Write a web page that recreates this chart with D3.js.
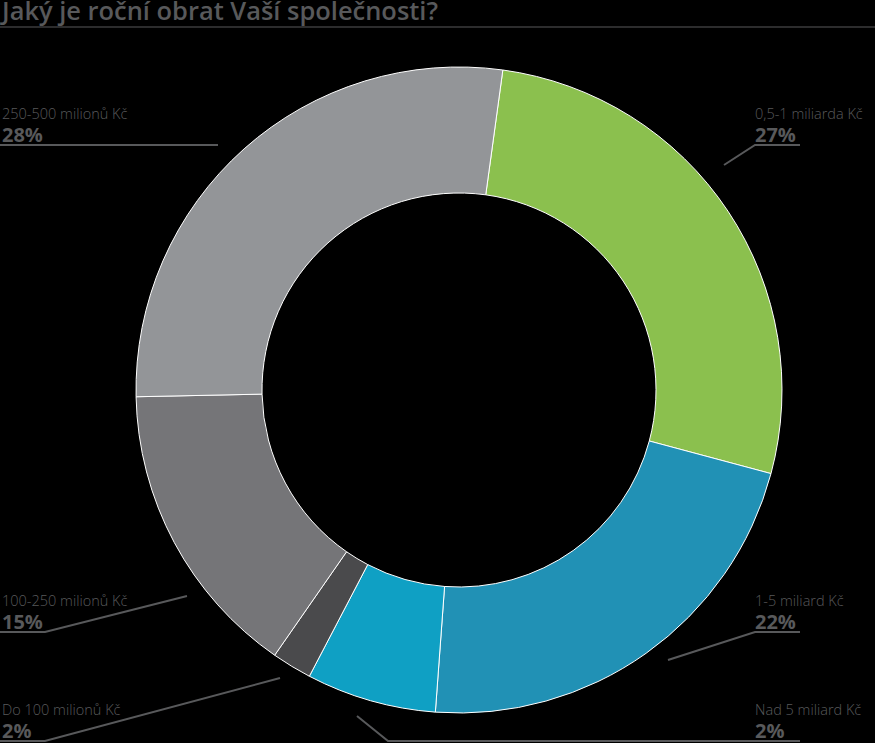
<!DOCTYPE html>
<html><head><meta charset="utf-8">
<script src="https://cdn.jsdelivr.net/npm/d3@7"></script>
<style>
html,body{margin:0;background:#000;overflow:hidden}
svg{display:block;font-family:"Open Sans",sans-serif}
</style></head>
<body><svg id="chart" width="875" height="743"></svg>
<script>
'use strict';

// data (clockwise from just right of 12 o'clock)
const categories = ['0,5-1 miliarda Kč', '1-5 miliard Kč', 'Nad 5 miliard Kč', 'Do 100 milionů Kč', '100-250 milionů Kč', '250-500 milionů Kč'];
const sliceValues = [27, 22, 6.5, 2, 15, 27.5];
const percentLabels = ['27%', '22%', '2%', '2%', '15%', '28%'];
const colors = ['#8bc04e', '#2191b5', '#0fa0c4', '#4a4a4c', '#757578', '#939598'];

// label layout: text anchor x, baseline y, leader polyline
const LABELS = [
  {x: 755, y: 119, line: [[800, 145], [755, 145], [724, 165]]},
  {x: 755, y: 606, line: [[800, 632], [755, 632], [668, 660]]},
  {x: 755, y: 715, line: [[800, 741], [388, 741], [357, 716]]},
  {x: 2, y: 715, line: [[0, 741], [45, 741], [280, 678]]},
  {x: 2, y: 606, line: [[0, 632], [45, 632], [187, 596]]},
  {x: 2, y: 119, line: [[0, 145], [218, 145]]}
];

const svg = d3.select('#chart');
const grey = '#58595b';

svg.append('text').attr('x', 2).attr('y', 20)
   .attr('fill', grey).attr('font-size', 25).attr('font-weight', 600)
   .attr('textLength', 436).attr('lengthAdjust', 'spacingAndGlyphs')
   .text('Jaký je roční obrat Vaší společnosti?');
svg.append('line').attr('x1', 0).attr('x2', 875).attr('y1', 27).attr('y2', 27)
   .attr('stroke', grey).attr('stroke-width', 1);

const cx = 459, cy = 390;
const startAngle = 7.8 * Math.PI / 180;
const pie = d3.pie().sort(null).value(d => d)
  .startAngle(startAngle).endAngle(startAngle + 2 * Math.PI);
const arc = d3.arc().innerRadius(197).outerRadius(323);

const g = svg.append('g').attr('transform', `translate(${cx},${cy})`);
g.selectAll('path').data(pie(sliceValues)).join('path')
 .attr('d', arc)
 .attr('fill', (d, i) => colors[i])
 .attr('stroke', '#fff').attr('stroke-width', 1);

const line = d3.line();
LABELS.forEach((l, i) => {
  svg.append('path').attr('d', line(l.line)).attr('fill', 'none')
     .attr('stroke', grey).attr('stroke-width', 2);
  svg.append('text').attr('x', l.x).attr('y', l.y)
     .attr('fill', grey).attr('font-size', 14.5).attr('font-weight', 300)
     .text(categories[i]);
  svg.append('text').attr('x', l.x).attr('y', l.y + 23)
     .attr('fill', grey).attr('font-size', 20).attr('font-weight', 700)
     .text(percentLabels[i]);
});
</script></body></html>
